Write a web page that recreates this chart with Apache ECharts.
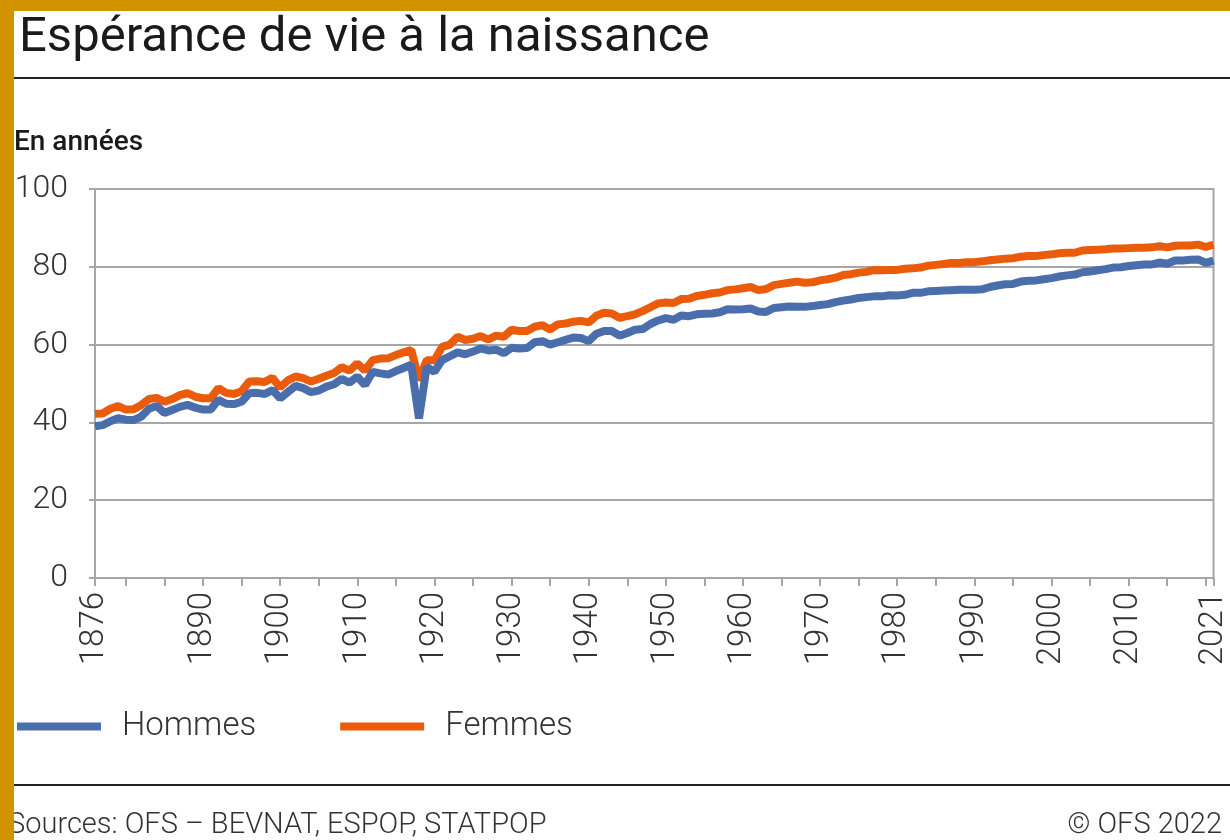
<!DOCTYPE html>
<html>
<head>
<meta charset="utf-8">
<script src="https://cdn.jsdelivr.net/npm/echarts@6/dist/echarts.min.js"></script>
<style>
  html, body { margin: 0; padding: 0; background: #fff; }
  #chart { width: 1230px; height: 840px; }
</style>
</head>
<body>
<div id="chart"></div>
<script>
// années 1876 - 2021
const firstYear = 1876
const lastYear = 2021
const years = []
for (let y = firstYear; y <= lastYear; y++) years.push(String(y))

// étiquettes affichées sur l'axe x
const labelYears = ['1876', '1890', '1900', '1910', '1920', '1930', '1940', '1950',
  '1960', '1970', '1980', '1990', '2000', '2010', '2021']

// Hommes, 1876 -> 2021
const hommes = [
  39.0, 39.3, 40.3, 41.1, 40.7, 40.6, 41.5, 43.5, 44.2, 42.4,
  43.2, 44.0, 44.5, 43.8, 43.3, 43.3, 45.8, 44.8, 44.7, 45.3,
  47.5, 47.6, 47.3, 48.3, 46.2, 47.8, 49.4, 48.8, 47.8, 48.2,
  49.2, 49.8, 51.2, 50.2, 51.8, 49.6, 53.0, 52.6, 52.3, 53.2,
  54.0, 54.8, 41.0, 54.3, 53.0, 56.0, 57.0, 58.0, 57.5, 58.2,
  59.0, 58.5, 58.7, 57.8, 59.2, 59.0, 59.1, 60.6, 60.9, 60.0,
  60.6, 61.2, 61.8, 61.7, 60.9, 62.8, 63.5, 63.5, 62.3, 63.0,
  63.8, 64.0, 65.3, 66.2, 66.8, 66.4, 67.5, 67.3, 67.8, 67.9,
  68.0, 68.3, 69.1, 69.0, 69.1, 69.3, 68.5, 68.4, 69.4, 69.6,
  69.8, 69.7, 69.7, 69.9, 70.2, 70.4, 70.9, 71.3, 71.6, 72.0,
  72.2, 72.4, 72.4, 72.7, 72.6, 72.8, 73.3, 73.3, 73.7, 73.8,
  73.9, 74.0, 74.1, 74.1, 74.1, 74.2, 74.8, 75.2, 75.5, 75.6,
  76.2, 76.4, 76.5, 76.8, 77.1, 77.5, 77.8, 78.0, 78.6, 78.8,
  79.1, 79.4, 79.8, 79.9, 80.2, 80.4, 80.6, 80.6, 81.1, 80.8,
  81.6, 81.6, 81.8, 81.9, 81.0, 81.6
]

// Femmes, 1876 -> 2021
const femmes = [
  42.2, 42.3, 43.5, 44.2, 43.3, 43.4, 44.5, 46.0, 46.3, 45.3,
  46.0, 47.0, 47.5, 46.6, 46.2, 46.2, 48.8, 47.6, 47.3, 48.0,
  50.5, 50.6, 50.4, 51.5, 49.0, 50.8, 51.8, 51.4, 50.5, 51.2,
  52.0, 52.7, 54.2, 53.3, 55.2, 53.3, 56.0, 56.4, 56.5, 57.3,
  58.0, 58.6, 50.9, 56.0, 56.0, 59.4, 60.0, 62.0, 61.2, 61.5,
  62.2, 61.3, 62.3, 62.0, 63.8, 63.5, 63.5, 64.6, 65.0, 63.9,
  65.2, 65.4, 65.9, 66.1, 65.7, 67.4, 68.2, 68.0, 66.9, 67.3,
  67.8, 68.6, 69.6, 70.6, 70.8, 70.7, 71.7, 71.8, 72.5, 72.8,
  73.2, 73.4, 74.0, 74.2, 74.5, 74.8, 74.0, 74.3, 75.3, 75.6,
  75.9, 76.2, 75.9, 76.0, 76.5, 76.8, 77.2, 77.9, 78.1, 78.5,
  78.7, 79.2, 79.1, 79.2, 79.2, 79.5, 79.6, 79.8, 80.3, 80.5,
  80.7, 81.0, 81.0, 81.2, 81.2, 81.4, 81.7, 81.9, 82.1, 82.2,
  82.6, 82.8, 82.8, 83.0, 83.2, 83.5, 83.6, 83.6, 84.2, 84.3,
  84.4, 84.5, 84.7, 84.7, 84.8, 84.9, 84.9, 85.0, 85.3, 85.0,
  85.4, 85.5, 85.5, 85.7, 85.1, 85.7
]

const colorHommes = '#4a6eab'
const colorFemmes = '#ea5b0c'
const gridGrey = '#a6a6a6'
const font = 'Roboto, "Noto Sans", sans-serif'

const chart = echarts.init(document.getElementById('chart'))

const option = {
  animation: false,
  backgroundColor: '#fff',
  title: {
    text: 'Espérance de vie à la naissance',
    left: 14,
    top: 9,
    textStyle: { fontFamily: font, fontSize: 49, fontWeight: 'normal', color: '#1a1a1a' }
  },
  legend: {
    data: ['Hommes', 'Femmes'],
    left: 12,
    top: 705,
    icon: 'rect',
    itemWidth: 84,
    itemHeight: 8,
    itemGap: 84,
    textStyle: {
      fontFamily: font, fontSize: 33, fontWeight: 300, color: '#333',
      padding: [0, 0, 0, 16]
    }
  },
  grid: {
    left: 95,
    right: 13,
    top: 189,
    bottom: 262,
    show: true,
    borderColor: gridGrey,
    borderWidth: 2,
    containLabel: false
  },
  xAxis: {
    type: 'category',
    data: years,
    boundaryGap: false,
    axisLine: { lineStyle: { color: gridGrey, width: 2 } },
    axisTick: {
      show: true,
      length: 8,
      lineStyle: { color: gridGrey, width: 2 },
      interval: (idx, val) => Number(val) % 5 === 0 || val === '1876' || val === '2021'
    },
    axisLabel: {
      interval: (idx, val) => labelYears.includes(val),
      rotate: 90,
      margin: 14,
      fontFamily: font,
      fontSize: 33,
      fontWeight: 300,
      color: '#333'
    },
    splitLine: { show: false }
  },
  yAxis: {
    type: 'value',
    min: 0,
    max: 100,
    interval: 20,
    axisLine: { show: true, lineStyle: { color: gridGrey, width: 2 } },
    axisTick: { show: true, length: 6, lineStyle: { color: gridGrey, width: 2 } },
    axisLabel: {
      margin: 27,
      fontFamily: font,
      fontSize: 32,
      fontWeight: 300,
      color: '#333'
    },
    splitLine: { lineStyle: { color: gridGrey, width: 2 } }
  },
  series: [
    {
      name: 'Femmes',
      type: 'line',
      data: femmes,
      symbol: 'none',
      lineStyle: { color: colorFemmes, width: 8 },
      itemStyle: { color: colorFemmes }
    },
    {
      name: 'Hommes',
      type: 'line',
      data: hommes,
      symbol: 'none',
      lineStyle: { color: colorHommes, width: 8 },
      itemStyle: { color: colorHommes }
    }
  ],
  graphic: [
    // filets noirs
    { type: 'rect', shape: { x: 14, y: 77, width: 1216, height: 2 }, style: { fill: '#222' } },
    { type: 'rect', shape: { x: 14, y: 784, width: 1216, height: 2 }, style: { fill: '#222' } },
    {
      type: 'text', x: 14, y: 143,
      style: { text: 'En années', fontFamily: font, fontSize: 28, fontWeight: 500, fill: '#1a1a1a', verticalAlign: 'middle' }
    },
    {
      type: 'text', x: 8, y: 826,
      style: { text: 'Sources: OFS – BEVNAT, ESPOP, STATPOP', fontFamily: font, fontSize: 29, fontWeight: 300, fill: '#333', verticalAlign: 'middle' }
    },
    {
      type: 'text', x: 1222, y: 826,
      style: { text: '© OFS 2022', fontFamily: font, fontSize: 29, fontWeight: 300, fill: '#333', align: 'right', verticalAlign: 'middle' }
    },
    // cadre doré
    { type: 'rect', z: 100, shape: { x: 0, y: 0, width: 14, height: 840 }, style: { fill: '#d39300' } },
    { type: 'rect', z: 100, shape: { x: 0, y: 0, width: 1230, height: 11 }, style: { fill: '#d39300' } }
  ]
}

chart.setOption(option)
</script>
</body>
</html>
